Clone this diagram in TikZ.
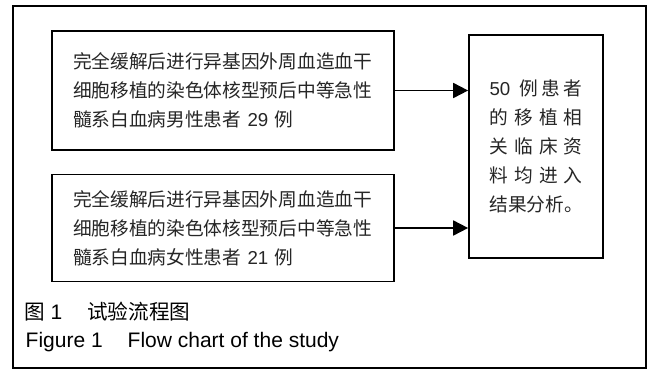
\documentclass[tikz,border=0pt]{standalone}
\usepackage{fontspec}
\setmainfont{Liberation Sans}
\newfontfamily\cjk{Noto Sans CJK SC}
\usetikzlibrary{arrows.meta}
\newcommand{\zh}[1]{{\cjk #1}}
\newcommand{\jline}[1]{\makebox[93pt][s]{#1}}
\begin{document}
\begin{tikzpicture}[x=1pt,y=-1pt,
  box/.style={draw, line width=1.7pt, inner sep=0pt},
  boxtext/.style={font=\fontsize{18.7}{29}\selectfont, text width=300pt, align=left, text=black!85},
  arr/.style={-{Triangle[length=15pt,width=15pt]}, line width=1.8pt},
  captext/.style={font=\fontsize{21}{26}\selectfont, inner sep=0pt, anchor=west}]
\useasboundingbox (0,0) rectangle (649,370);
\fill[white] (0,0) rectangle (649,370);
\draw[line width=1.2pt] (13,6) rectangle (646,368);
\node[box, boxtext, minimum width=342pt, minimum height=119pt] (male) at (223,90.5)
  {\zh{完全缓解后进行异基因外周血造血干}\\\zh{细胞移植的染色体核型预后中等急性}\\\zh{髓系白血病男性患者} 29 \zh{例}};
\node[box, boxtext, minimum width=342pt, minimum height=107pt] (female) at (223,228)
  {\zh{完全缓解后进行异基因外周血造血干}\\\zh{细胞移植的染色体核型预后中等急性}\\\zh{髓系白血病女性患者} 21 \zh{例}};
\node[box, boxtext, text width=93pt, minimum width=134pt, minimum height=223pt] (all) at (536,146.5)
  {\jline{50\hspace{6pt}\hfill\zh{例}\hfill\zh{患}\hfill\zh{者}}\\
   \jline{\zh{的}\hfill\zh{移}\hfill\zh{植}\hfill\zh{相}}\\
   \jline{\zh{关}\hfill\zh{临}\hfill\zh{床}\hfill\zh{资}}\\
   \jline{\zh{料}\hfill\zh{均}\hfill\zh{进}\hfill\zh{入}}\\
   \zh{结果分析。}};
\draw[arr] (male.east) -- (male.east -| all.west);
\draw[arr] (female.east) -- (female.east -| all.west);
\node[captext] (capzh) at (24,312) {{\cjk\fontsize{20.6}{26}\selectfont 图} 1\hspace{25pt}{\cjk\fontsize{20.6}{26}\selectfont 试验流程图}};
\node[captext] (capen) at (25.5,342) {Figure 1\hspace{25pt}Flow chart of the study};
\end{tikzpicture}
\end{document}
